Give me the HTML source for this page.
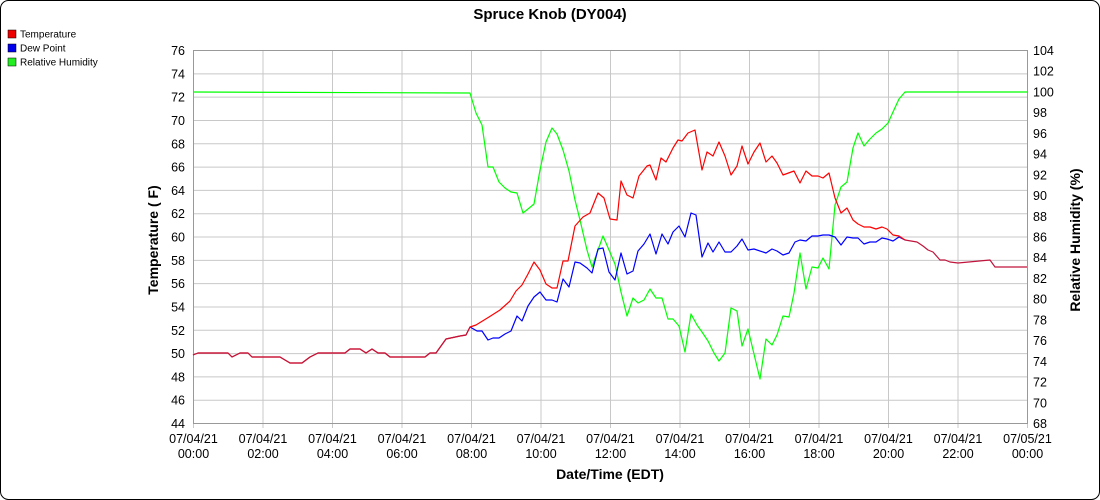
<!DOCTYPE html>
<html><head><style>
html,body{margin:0;padding:0;background:#fff}
svg{display:block;font-family:"Liberation Sans",Arial,sans-serif}
</style></head><body>
<svg width="1100" height="500" xmlns="http://www.w3.org/2000/svg">
<rect x="0.5" y="0.5" width="1099" height="499" rx="8" fill="#fff" stroke="#000"/>
<text x="550" y="19" text-anchor="middle" font-size="15" font-weight="bold">Spruce Knob (DY004)</text>
<rect x="8" y="30" width="8" height="8" fill="#e00" stroke="#000" stroke-width="0.5"/><text x="20" y="37.5" font-size="10">Temperature</text>
<rect x="8" y="44" width="8" height="8" fill="#00e" stroke="#000" stroke-width="0.5"/><text x="20" y="51.5" font-size="10">Dew Point</text>
<rect x="8" y="58" width="8" height="8" fill="#2e2" stroke="#000" stroke-width="0.5"/><text x="20" y="65.5" font-size="10">Relative Humidity</text>
<g stroke="#c8c8c8" stroke-width="1" id="grid"></g>
<g id="lab" font-size="12.5"></g>
<rect x="193.5" y="50.5" width="834" height="373" fill="none" stroke="#999"/>
<text transform="translate(158,240) rotate(-90)" text-anchor="middle" font-size="14" font-weight="bold">Temperature ( F)</text>
<text transform="translate(1080,240) rotate(-90)" text-anchor="middle" font-size="14" font-weight="bold">Relative Humidity (%)</text>
<text x="610" y="479" text-anchor="middle" font-size="14" font-weight="bold">Date/Time (EDT)</text>
<g fill="none" stroke-width="1.2" stroke-linejoin="round">
<polyline stroke="#00ff00" points="193,92 470,93 476,113 482,125 488,167 493,167 499,182 505,188 511,192 517,193 523,213 528,209 534,204 540,170 546,142 552,128 557,134 563,150 569,171 575,200 580,220 587,250 592,267 598,250 603,236 609,250 615,264 621,292 627,316 633,298 638,303 644,300 650,289 656,298 662,298 668,319 673,319 679,326 685,352 691,314 697,325 702,332 708,341 714,353 719,361 725,353 731,308 737,311 742,346 748,329 760,379 766,339 772,345 777,335 783,316 789,317 794,293 800,253 806,289 812,267 818,268 823,258 829,269 835,205 841,187 847,182 853,148 858,133 864,146 870,139 876,133 882,129 888,123 893,112 899,99 905,92 1027,92"/>
<polyline stroke="#0000ff" points="470,327 477,331 482,331 488,340 493,338 499,338 505,334 511,331 517,316 522,321 528,306 534,297 540,292 546,300 552,300 557,302 563,279 569,287 575,262 580,263 587,268 592,273 598,249 603,248 609,272 615,280 621,253 627,274 633,271 638,251 644,244 650,234 656,254 662,234 668,244 673,232 679,226 685,237 691,213 696,215 702,257 708,243 713,252 719,242 725,252 731,252 737,246 742,239 748,250 754,249 766,253 772,249 777,251 783,255 789,253 795,242 800,240 806,241 812,236 818,236 823,235 829,235 835,237 841,245 847,237 853,238 858,238 864,244 870,242 876,242 882,238 887,239 893,241 899,237 905,240"/>
<polyline stroke="#ff0000" points="193,355 198,353 228,353 232,357 240,353 248,353 252,357 280,357 290,363 302,363 310,357 318,353 345,353 350,349 360,349 366,353 372,349 378,353 385,353 390,357 425,357 430,353 436,353 446,339 460,336 466,335 470,327 476,325 489,317 500,310 510,301 516,291 522,285 528,274 534,262 540,270 546,284 552,288 557,288 563,261 568,261 575,226 583,217 590,213 598,193 604,198 610,219 617,220 621,181 627,195 633,198 639,176 647,166 650,165 656,180 661,158 666,162 673,148 678,140 682,141 688,133 695,130 702,170 707,152 713,156 719,142 725,156 731,175 737,166 742,146 748,164 754,152 760,143 766,162 772,156 777,163 783,175 794,171 800,183 806,171 812,176 818,176 823,178 829,173 835,198 841,213 847,208 853,220 858,224 864,227 870,227 876,229 882,227 887,229 893,235 899,236 905,240"/>
<polyline stroke="#c0143c" points="193,355 198,353 228,353 232,357 240,353 248,353 252,357 280,357 290,363 302,363 310,357 318,353 345,353 350,349 360,349 366,353 372,349 378,353 385,353 390,357 425,357 430,353 436,353 446,339 460,336 466,335 470,327"/>
<polyline stroke="#c0143c" points="905,240 917,242 923,246 928,250 933,252 940,260 945,260 950,262 958,263 990,260 995,267 1027,267"/>
</g>
<script>
var g=document.getElementById('grid'),l=document.getElementById('lab'),ns='http://www.w3.org/2000/svg';
function el(p,t,a,txt){var e=document.createElementNS(ns,t);for(var k in a)e.setAttribute(k,a[k]);if(txt!=null)e.textContent=txt;p.appendChild(e);return e;}
for(var i=0;i<=16;i++){var y=50.5+i*373/16;el(g,'line',{x1:193,x2:1027,y1:y,y2:y});
el(l,'text',{x:185,y:y+4.5,'text-anchor':'end'},String(76-2*i));}
for(var i=0;i<=18;i++){var y=50.5+i*373/18;el(l,'text',{x:1033,y:y+4.5},String(104-2*i));}
for(var i=0;i<=12;i++){var x=193.5+i*834/12;el(g,'line',{x1:x,x2:x,y1:50,y2:428});
var d=i==12?'07/05/21':'07/04/21',h=i==12?'00:00':((2*i<10?'0':'')+(2*i)+':00');
el(l,'text',{x:x,y:443,'text-anchor':'middle'},d);el(l,'text',{x:x,y:458,'text-anchor':'middle'},h);}
</script>
</svg>
</body></html>
